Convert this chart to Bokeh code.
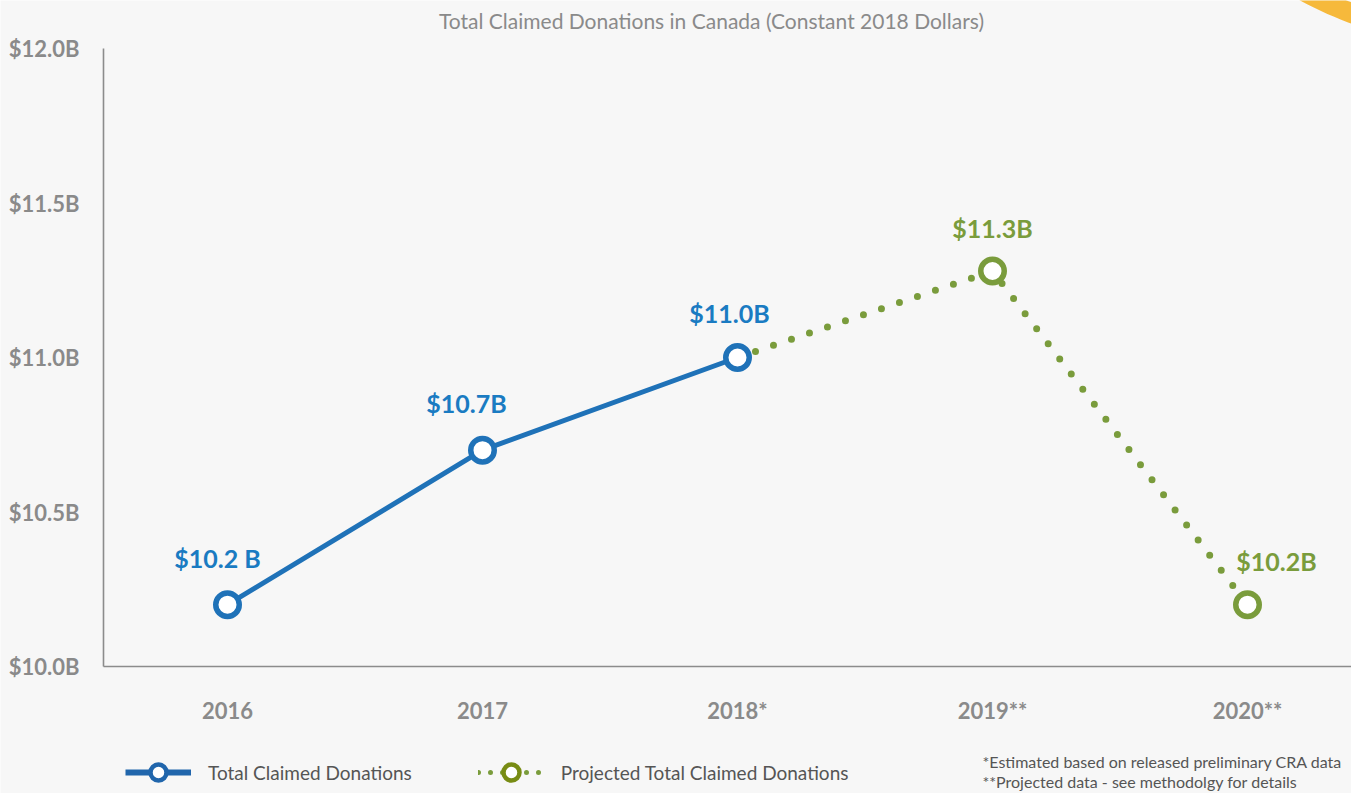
import numpy as np
from bokeh.plotting import figure
from bokeh.models import (ColumnDataSource, FixedTicker, Range1d, Label, Legend, LegendItem,
                          PolyAnnotation, LinearAxis)
from bokeh.core.properties import value
from bokeh.embed import file_html
from bokeh.resources import INLINE

# ---- data ----
years = ["2016", "2017", "2018*", "2019**", "2020**"]
donations = [10.2, 10.7, 11.0, 11.28, 10.2]
value_labels = ["$10.2 B", "$10.7B", "$11.0B", "$11.3B", "$10.2B"]
y_ticks = [10.0, 10.5, 11.0, 11.5, 12.0]
y_tick_labels = ["$10.0B", "$10.5B", "$11.0B", "$11.5B", "$12.0B"]
actual_idx = [0, 1, 2]
projected_idx = [2, 3, 4]
title_text = "Total Claimed Donations in Canada (Constant 2018 Dollars)"
notes = ["*Estimated based on released preliminary CRA data",
         "**Projected data - see methodolgy for details"]
series_names = ["Total Claimed Donations", "Projected Total Claimed Donations"]

# ---- styling ----
FONT = "Lato"
BG = "#f7f7f7"
GREY = "#8a8a8a"
BLUE = "#1f72b8"
BLUE_LEG = "#2166ac"
BLUE_TXT = "#1a7bc2"
GREEN = "#7a9c3c"
GREEN_LEG = "#788c14"
label_dx = [-10, -16, -8, 0, 29]
label_dy = [-47, -47, -45, -43, -44]

W, H = 1351, 793
X0_PX, X_STEP = 227, 255      # pixel of first category, pixels per category
Y0_PX, Y_STEP = 666, 309      # pixel of $10.0B, pixels per $1B
AX_LEFT_PX = 103


def px2x(px):
    return (px - X0_PX) / X_STEP


def py2y(py):
    return 10.0 + (Y0_PX - py) / Y_STEP


xs = list(range(len(years)))

p = figure(width=W, height=H, output_backend="svg", toolbar_location=None,
           x_range=Range1d(px2x(0), px2x(W)), y_range=Range1d(py2y(H), py2y(0)),
           x_axis_location=None, y_axis_location=None,
           min_border_left=0, min_border_right=0, min_border_top=0, min_border_bottom=0,
           background_fill_color=BG, border_fill_color=BG, outline_line_color=None)
p.grid.visible = False

xaxis = LinearAxis(fixed_location=10.0, bounds=(px2x(AX_LEFT_PX), px2x(W)))
yaxis = LinearAxis(fixed_location=px2x(AX_LEFT_PX), bounds=(10.0, 12.0))
xaxis.ticker = FixedTicker(ticks=xs)
xaxis.major_label_overrides = {i: y for i, y in enumerate(years)}
yaxis.ticker = FixedTicker(ticks=y_ticks)
yaxis.major_label_overrides = {t: l for t, l in zip(y_ticks, y_tick_labels)}
for ax in (xaxis, yaxis):
    ax.major_tick_line_color = None
    ax.minor_tick_line_color = None
    ax.axis_line_color = "#8c8c8c"
    ax.axis_line_width = 1.6
    ax.major_label_text_font = FONT
    ax.major_label_text_font_style = "bold"
    ax.major_label_text_color = GREY
    ax.major_label_text_font_size = "22px"
xaxis.major_label_standoff = 24
yaxis.major_label_standoff = 18
p.add_layout(xaxis, "below")
p.add_layout(yaxis, "left")

act = ColumnDataSource(dict(x=[xs[i] for i in actual_idx], y=[donations[i] for i in actual_idx]))
proj = ColumnDataSource(dict(x=[xs[i] for i in projected_idx], y=[donations[i] for i in projected_idx]))

p.line("x", "y", source=proj, line_color=GREEN, line_width=7,
       line_dash="0 19", line_cap="round")
p.line("x", "y", source=act, line_color=BLUE, line_width=5)

proj_pts = ColumnDataSource(dict(x=xs[3:], y=donations[3:]))
p.scatter("x", "y", source=proj_pts, marker="circle", size=23.5,
          fill_color="white", line_color=GREEN, line_width=5.5)
p.scatter("x", "y", source=act, marker="circle", size=23.5,
          fill_color="white", line_color=BLUE, line_width=5.5)

# value labels
lab_src = ColumnDataSource(dict(x=xs, y=donations, t=value_labels,
                                c=[BLUE_TXT] * 3 + [GREEN] * 2, dx=label_dx, dy=label_dy))
p.text("x", "y", text="t", source=lab_src, text_color="c", x_offset="dx", y_offset="dy",
       text_align="center", text_baseline="middle", text_font=value(FONT),
       text_font_style="bold", text_font_size="25px")

# title
p.add_layout(Label(x=px2x(711), y=py2y(20), text=title_text,
                   text_align="center", text_baseline="middle", text_font=FONT,
                   text_font_size="21px", text_color=GREY))

# footnotes
for k, t in enumerate(notes):
    p.add_layout(Label(x=px2x(982), y=py2y(761 + 20 * k), text=t,
                       text_align="left", text_baseline="middle", text_font=FONT,
                       text_font_size="16px", text_color="#555555"))

# decorative ring at top right
th = np.linspace(np.pi * 0.45, np.pi * 0.95, 80)
cx, cy, r_out, r_in = 1480, -330, 376, 356
sx = np.concatenate([cx + r_out * np.cos(th), (cx + r_in * np.cos(th))[::-1]])
sy = np.concatenate([cy + r_out * np.sin(th), (cy + r_in * np.sin(th))[::-1]])
p.add_layout(PolyAnnotation(xs=[px2x(v) for v in sx], ys=[py2y(v) for v in sy],
                            fill_color="#f6b93b", fill_alpha=1, line_color=None))

# legend-only glyphs (NaN data: nothing drawn in the plot, only legend styling)
def nan_src():
    return ColumnDataSource(dict(x=[float("nan")], y=[float("nan")]))


leg_act_line = p.line("x", "y", source=nan_src(), line_color=BLUE_LEG, line_width=6)
leg_act_mark = p.scatter("x", "y", source=nan_src(), marker="circle",
                         fill_color="white", line_color=BLUE_LEG, line_width=4.5)
leg_proj_line = p.line("x", "y", source=nan_src(), line_color=GREEN, line_width=5,
                       line_dash="0 12", line_cap="round")
leg_proj_mark = p.scatter("x", "y", source=nan_src(), marker="circle",
                          fill_color="white", line_color=GREEN_LEG, line_width=4.5)

legend = Legend(items=[
    LegendItem(label=series_names[0], renderers=[leg_act_line, leg_act_mark]),
    LegendItem(label=series_names[1], renderers=[leg_proj_line, leg_proj_mark]),
], orientation="horizontal", location=(125, 1), padding=0, spacing=66,
    glyph_width=66, glyph_height=40, label_standoff=17, label_height=40,
    label_text_font=FONT, label_text_font_size="19px", label_text_color="#555555",
    background_fill_alpha=0, border_line_color=None)
p.add_layout(legend)

open("out.html", "w").write(file_html(p, INLINE))
